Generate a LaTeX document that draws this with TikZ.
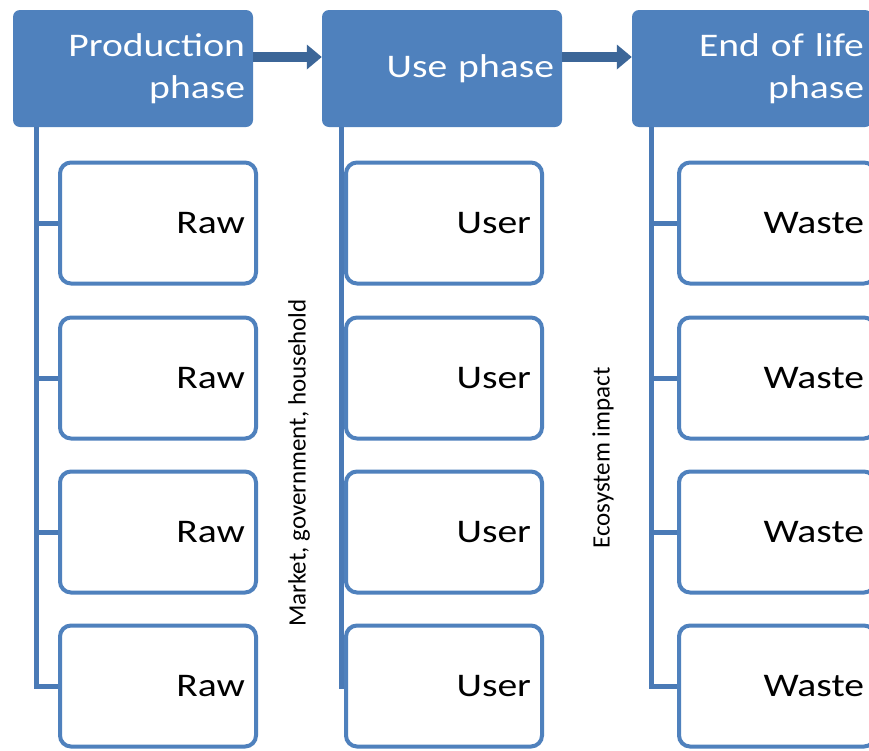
\documentclass[tikz,border=0pt]{standalone}
\usepackage{fontspec}
\setmainfont{Carlito}
\newfontfamily\widefont[FakeStretch=1.2]{Carlito}
\usepackage{xcolor}
\usetikzlibrary{arrows.meta, positioning}
\definecolor{phaseblue}{HTML}{4F81BD}
\definecolor{arrowblue}{HTML}{3C6698}
\definecolor{spineblue}{HTML}{4A7AB6}
\tikzset{phase/.style={rectangle,rounded corners=7pt,fill=phaseblue,text=white,text width=224pt,align=right,inner sep=8pt,minimum height=117pt,font=\widefont\fontsize{33}{42}\selectfont},
  item/.style={rectangle,rounded corners=11pt,draw=phaseblue,line width=4pt,fill=white,text width=174pt,align=right,inner xsep=11pt,minimum height=121pt,font=\widefont\fontsize{33}{40}\selectfont},
  trunk/.style={draw=spineblue,line width=5pt},
  flow/.style={draw=arrowblue,line width=10pt,-{Triangle[length=15pt,width=24pt]}},
  side/.style={rotate=90,font=\fontsize{25}{30}\selectfont}}

\begin{document}
\begin{tikzpicture}[x=1pt,y=-1pt]
      \fill[white] (0,0) rectangle (869,750);
      \clip (0,0) rectangle (869,750);

      % phase headers
      \node[phase] (h1) at (133,68.5) {Production\\phase};
      \node[phase] (h2) at (442,68.5) {Use phase};
      \node[phase] (h3) at (752,68.5) {End of life\\phase};
      \draw[flow] ([yshift=11.5pt]h1.east) -- ([yshift=11.5pt]h2.west);
      \draw[flow] ([yshift=11.5pt]h2.east) -- ([yshift=11.5pt]h3.west);

      % production column
      \node[item] (r1) at (158,223) {Raw};
      \node[item] (r2) at (158,378) {Raw};
      \node[item] (r3) at (158,532) {Raw};
      \node[item] (r4) at (158,686) {Raw};
      \coordinate (p1) at ([xshift=24pt]h1.south west);
      \draw[trunk] (p1) |- (r4.west);
      \draw[trunk] (r1.west) -- (r1.west -| p1);
      \draw[trunk] (r2.west) -- (r2.west -| p1);
      \draw[trunk] (r3.west) -- (r3.west -| p1);

      % use column
      \node[item] (u1) at (444,223) {User};
      \node[item] (u2) at (444,378) {User};
      \node[item] (u3) at (444,532) {User};
      \node[item] (u4) at (444,686) {User};
      \coordinate (p2) at ([xshift=20pt]h2.south west);
      \draw[trunk] (p2) |- (u4.west);

      % end of life column
      \node[item] (w1) at (777,223) {Waste};
      \node[item] (w2) at (777,378) {Waste};
      \node[item] (w3) at (777,532) {Waste};
      \node[item] (w4) at (777,686) {Waste};
      \coordinate (p3) at ([xshift=20pt]h3.south west);
      \draw[trunk] (p3) |- (w4.west);
      \draw[trunk] (w1.west) -- (w1.west -| p3);
      \draw[trunk] (w2.west) -- (w2.west -| p3);
      \draw[trunk] (w3.west) -- (w3.west -| p3);

      \node[side] (mkt) at (299,463) {Market, government, household};
      \node[side] (eco) at (603,458) {Ecosystem impact};
  \end{tikzpicture}
\end{document}
